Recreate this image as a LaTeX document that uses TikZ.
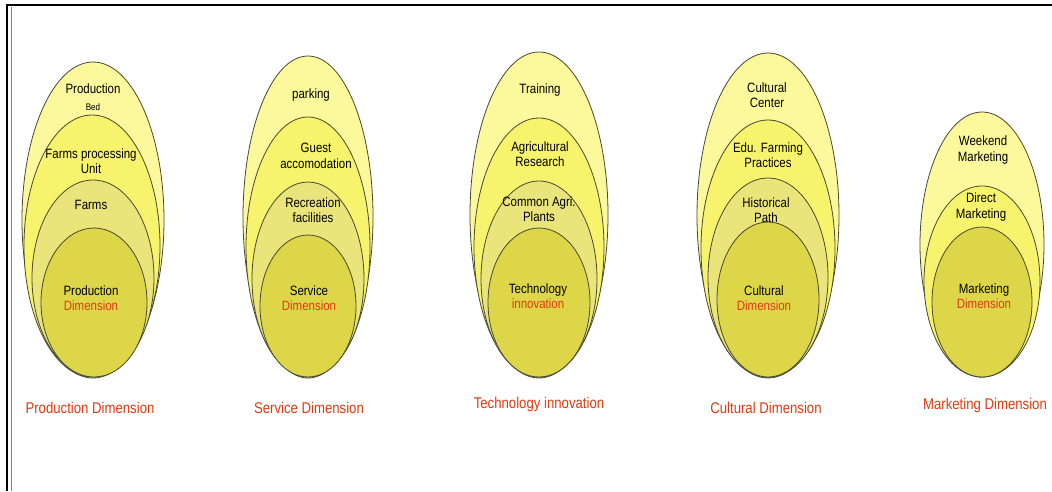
\documentclass[tikz,border=0pt]{standalone}
\usepackage{fontspec}
\setmainfont{Liberation Sans}[FakeStretch=0.85]
\usepackage{xcolor}
\definecolor{ringA}{HTML}{FBF99C}
\definecolor{ringB}{HTML}{F7F36C}
\definecolor{ringC}{HTML}{E9E57A}
\definecolor{ringD}{HTML}{DDD648}
\definecolor{rim}{HTML}{4A4830}
\definecolor{dimred}{HTML}{E03A10}

\begin{document}
\begin{tikzpicture}[
      x=1pt, y=-1pt,
      every node/.style={font=\fontsize{13.5}{15.5}\selectfont, align=center, inner sep=0pt},
      ring/.style={draw=rim, line width=0.8pt},
      ringA/.style={ring, fill=ringA},
      ringB/.style={ring, fill=ringB},
      ringC/.style={ring, fill=ringC},
      ringD/.style={ring, fill=ringD},
      dimlabel/.style={text=dimred, font=\fontsize{15.5}{17}\selectfont},
    ]
    \useasboundingbox (0,0) rectangle (1052,491);
    \fill[white] (0,0) rectangle (1052,491);

    % frame
    \draw[line width=2.5pt] (7,491) -- (7,5) -- (1052,5);
    \draw[gray, line width=1pt] (11.5,7) -- (11.5,491);

    % production
    \filldraw[ringA] (93,220)   ellipse [x radius=71, y radius=158];
    \filldraw[ringB] (92,246)   ellipse [x radius=68, y radius=131];
    \filldraw[ringC] (93,278)   ellipse [x radius=61, y radius=98];
    \filldraw[ringD] (94,302.5) ellipse [x radius=53, y radius=74.5];
    \node (prodBed)   at (93,89)  {Production};
    \node (prodBed2)  at (93,107) {\fontsize{9.5}{10}\selectfont Bed};
    \node (prodUnit)  at (91,161) {Farms processing\\Unit};
    \node (prodFarms) at (91,205) {Farms};
    \node (prodCore)  at (91,298) {Production\\\textcolor{dimred}{Dimension}};
    \node[dimlabel] (prodLabel) at (90,408) {Production Dimension};

    % service
    \filldraw[ringA] (308,217) ellipse [x radius=65, y radius=161];
    \filldraw[ringB] (308,247) ellipse [x radius=62, y radius=130];
    \filldraw[ringC] (308,279) ellipse [x radius=56, y radius=97];
    \filldraw[ringD] (308,306) ellipse [x radius=48, y radius=71];
    \node (servPark)  at (311,95)  {parking};
    \node (servGuest) at (316,156) {Guest\\accomodation};
    \node (servRec)   at (313,210) {Recreation\\facilities};
    \node (servCore)  at (309,298) {Service\\\textcolor{dimred}{Dimension}};
    \node[dimlabel] (servLabel) at (309,408) {Service Dimension};

    % technology
    \filldraw[ringA] (539,215)   ellipse [x radius=69, y radius=163];
    \filldraw[ringB] (539,247.5) ellipse [x radius=65, y radius=129.5];
    \filldraw[ringC] (539,279)   ellipse [x radius=58, y radius=98];
    \filldraw[ringD] (539,302.5) ellipse [x radius=51, y radius=74.5];
    \node (techTrain) at (540,90)  {Training};
    \node (techAgri)  at (540,154) {Agricultural\\Research};
    \node (techPlant) at (539,209) {Common Agri.\\Plants};
    \node (techCore)  at (538,296) {Technology\\\textcolor{dimred}{innovation}};
    \node[dimlabel] (techLabel) at (539,404) {Technology innovation};

    % cultural
    \filldraw[ringA] (768,215.5) ellipse [x radius=71, y radius=162.5];
    \filldraw[ringB] (768,248.5) ellipse [x radius=67, y radius=128.5];
    \filldraw[ringC] (768,277.5) ellipse [x radius=60, y radius=99.5];
    \filldraw[ringD] (768,299.5) ellipse [x radius=51, y radius=77.5];
    \node (cultCent)  at (767,95)  {Cultural\\Center};
    \node (cultEdu)   at (768,155) {Edu. Farming\\Practices};
    \node (cultPath)  at (766,210) {Historical\\Path};
    \node (cultCore)  at (764,298) {Cultural\\\textcolor{dimred}{Dimension}};
    \node[dimlabel] (cultLabel) at (766,408) {Cultural Dimension};

    % marketing
    \filldraw[ringA] (982,244.5) ellipse [x radius=62, y radius=132.5];
    \filldraw[ringB] (982,281.5) ellipse [x radius=58, y radius=95.5];
    \filldraw[ringD] (982,302)   ellipse [x radius=50, y radius=75];
    \node (markWeek)  at (983,150) {Weekend\\Marketing};
    \node (markDir)   at (981,207) {Direct\\Marketing};
    \node (markCore)  at (984,296) {Marketing\\\textcolor{dimred}{Dimension}};
    \node[dimlabel] (markLabel) at (985,405) {Marketing Dimension};
  \end{tikzpicture}
\end{document}
